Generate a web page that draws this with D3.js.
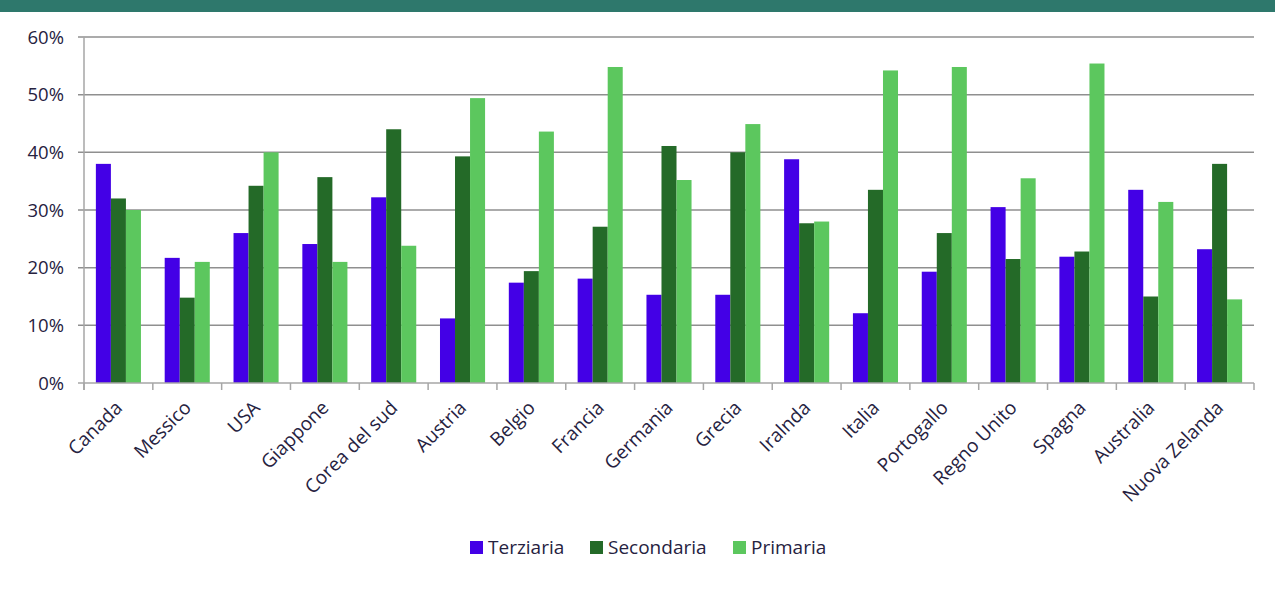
<!DOCTYPE html>
<html>
<head>
<meta charset="utf-8">
<script src="https://cdn.jsdelivr.net/npm/d3@7"></script>
<style>
  html, body { margin: 0; padding: 0; background: #ffffff; }
  svg { display: block; }
</style>
</head>
<body>
<svg id="chart" width="1275" height="612"></svg>
<script>
// Share of population by education level, per country
const countries = ["Canada", "Messico", "USA", "Giappone", "Corea del sud", "Austria", "Belgio", "Francia",
  "Germania", "Grecia", "Iralnda", "Italia", "Portogallo", "Regno Unito", "Spagna", "Australia", "Nuova Zelanda"];
const seriesNames = ["Terziaria", "Secondaria", "Primaria"];
const terziaria  = [38.0, 21.7, 26.0, 24.1, 32.2, 11.2, 17.4, 18.1, 15.3, 15.3, 38.8, 12.1, 19.3, 30.5, 21.9, 33.5, 23.2];
const secondaria = [32.0, 14.8, 34.2, 35.7, 44.0, 39.3, 19.4, 27.1, 41.1, 40.0, 27.7, 33.5, 26.0, 21.5, 22.8, 15.0, 38.0];
const primaria   = [30.0, 21.0, 40.0, 21.0, 23.8, 49.4, 43.6, 54.8, 35.2, 44.9, 28.0, 54.2, 54.8, 35.5, 55.4, 31.4, 14.5];
const yTicks = [0, 10, 20, 30, 40, 50, 60];

const colors = ["#4300e6", "#246a28", "#5cc75e"];
const values = [terziaria, secondaria, primaria];

const svg = d3.select("#chart");
const textColor = "#26223f";
const font = "'Open Sans', sans-serif";

// header band
svg.append("rect").attr("x", 0).attr("y", 0).attr("width", 1275).attr("height", 12).attr("fill", "#2e786c");

const plotLeft = 84, plotRight = 1254, plotTop = 37, plotBottom = 383;

const x = d3.scaleBand().domain(countries).range([plotLeft, plotRight]).paddingInner(0).paddingOuter(0);
const x1 = d3.scaleBand().domain(seriesNames).range([0, x.bandwidth()]).paddingInner(0).paddingOuter(0.79);
const y = d3.scaleLinear().domain([0, 60]).range([plotBottom, plotTop]);

// horizontal gridlines
svg.append("g").selectAll("line").data(yTicks.filter(d => d > 0)).join("line")
  .attr("x1", plotLeft - 6).attr("x2", plotRight)
  .attr("y1", d => y(d)).attr("y2", d => y(d))
  .attr("stroke", "#8f8f8f").attr("stroke-width", 1.5);

// y tick labels
svg.append("g").selectAll("text").data(yTicks).join("text")
  .attr("x", 64).attr("y", d => y(d)).attr("dy", "0.36em")
  .attr("text-anchor", "end").attr("fill", textColor)
  .style("font-family", font).style("font-size", "18.5px")
  .text(d => d + "%");

// bars
const groups = svg.append("g").selectAll("g").data(countries).join("g")
  .attr("transform", d => `translate(${x(d)},0)`);
groups.selectAll("rect")
  .data((c, i) => seriesNames.map((s, k) => ({ s, k, v: values[k][i] })))
  .join("rect")
  .attr("x", d => x1(d.s))
  .attr("width", x1.bandwidth())
  .attr("y", d => y(d.v))
  .attr("height", d => y(0) - y(d.v))
  .attr("fill", d => colors[d.k]);

// axis lines
svg.append("line").attr("x1", plotLeft).attr("x2", plotLeft).attr("y1", plotTop).attr("y2", plotBottom + 7)
  .attr("stroke", "#a6a6a6").attr("stroke-width", 1.5);
svg.append("line").attr("x1", plotLeft - 6).attr("x2", plotRight).attr("y1", plotBottom).attr("y2", plotBottom)
  .attr("stroke", "#a6a6a6").attr("stroke-width", 1.5);
// category ticks
const bounds = countries.map(c => x(c)).concat([plotRight]);
svg.append("g").selectAll("line").data(bounds).join("line")
  .attr("x1", d => d).attr("x2", d => d).attr("y1", plotBottom).attr("y2", plotBottom + 7)
  .attr("stroke", "#a6a6a6").attr("stroke-width", 1.5);

// category labels, rotated
svg.append("g").selectAll("text").data(countries).join("text")
  .attr("transform", d => `translate(${x(d) + x.bandwidth() / 2 + 5},${plotBottom + 26}) rotate(-45)`)
  .attr("text-anchor", "end").attr("fill", textColor)
  .style("font-family", font).style("font-size", "19px")
  .text(d => d);

// legend
const legendX = [470, 590, 733];
const legend = svg.append("g").selectAll("g").data(seriesNames).join("g")
  .attr("transform", (d, i) => `translate(${legendX[i]},547)`);
legend.append("rect").attr("x", 0).attr("y", -6).attr("width", 13).attr("height", 13)
  .attr("fill", (d, i) => colors[i]);
legend.append("text").attr("x", 18).attr("y", 0).attr("dy", "0.36em")
  .attr("fill", textColor).style("font-family", font).style("font-size", "19px")
  .text(d => d);
</script>
</body>
</html>
